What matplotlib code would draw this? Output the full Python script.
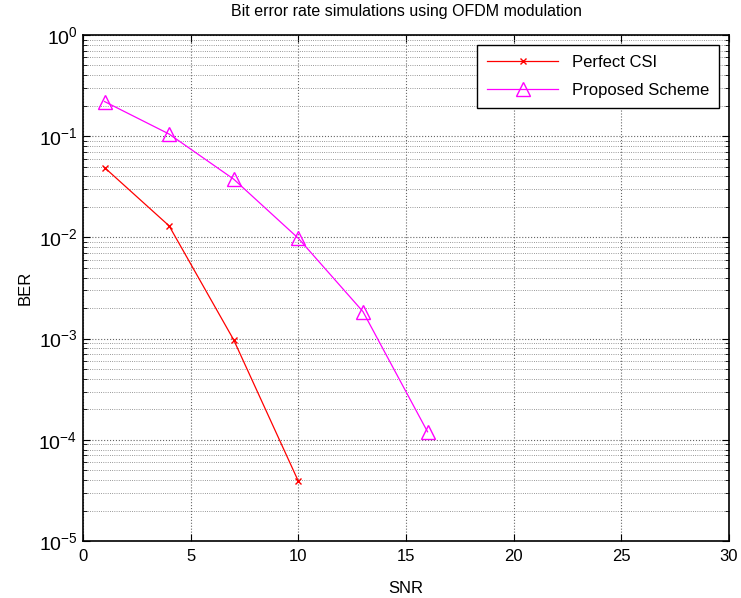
import numpy as np
import matplotlib.pyplot as plt
from matplotlib.ticker import LogLocator, FixedLocator, FuncFormatter

plt.rcParams['font.family'] = ['Liberation Sans', 'DejaVu Sans']
plt.rcParams['axes.unicode_minus'] = False

# Data
snr_perfect = [1, 4, 7, 10]
ber_perfect = [0.049, 0.013, 0.00097, 3.9e-5]
snr_proposed = [1, 4, 7, 10, 13, 16]
ber_proposed = [0.22, 0.105, 0.0376, 0.0098, 0.00185, 1.2e-4]

x_ticks = [0, 5, 10, 15, 20, 25, 30]

fig = plt.figure(figsize=(7.41, 5.98), dpi=100)
ax = fig.add_axes([83 / 741, 57 / 598, 646 / 741, 506 / 598])

ax.semilogy(snr_perfect, ber_perfect, color='red', marker='x', markersize=5,
            linewidth=0.9, label='Perfect CSI')
ax.semilogy(snr_proposed, ber_proposed, color='magenta', marker='^', markersize=10,
            markerfacecolor='none', linewidth=0.9, label='Proposed Scheme')

ax.set_xlim(0, 30)
ax.set_ylim(1e-5, 1)
ax.xaxis.set_major_locator(FixedLocator(x_ticks))
ax.yaxis.set_major_locator(LogLocator(base=10, numticks=10))
ax.yaxis.set_minor_locator(LogLocator(base=10, subs=np.arange(2, 10), numticks=10))
ax.yaxis.set_minor_formatter(plt.NullFormatter())

# MATLAB style exponent labels
def log_label(v, pos):
    e = int(round(np.log10(v)))
    return r'$\mathregular{10^{%d}}$' % e

ax.yaxis.set_major_formatter(FuncFormatter(log_label))

ax.grid(True, which='major', axis='both', color='#666666', linestyle=':', linewidth=0.8)
ax.grid(True, which='minor', axis='y', color='#777777', linestyle=':', linewidth=0.6)

ax.tick_params(which='both', direction='in', top=True, right=True)
ax.tick_params(axis='x', labelsize=12, pad=6)
ax.tick_params(axis='y', labelsize=14, pad=4)
ax.tick_params(which='major', length=5)
ax.tick_params(which='minor', length=3)
for sp in ax.spines.values():
    sp.set_linewidth(1.2)

ax.set_xlabel('SNR', fontsize=12, labelpad=12)
ax.set_ylabel('BER', fontsize=12, labelpad=4)
ax.set_title('Bit error rate simulations using OFDM modulation', fontsize=11.5, pad=14)

leg = ax.legend(loc='upper right', fontsize=12, fancybox=False, framealpha=1,
                edgecolor='black', borderaxespad=0.6, handlelength=4.3,
                labelspacing=0.75, borderpad=0.6)
leg.get_frame().set_linewidth(1.0)

fig.savefig('out.png', dpi=100)
